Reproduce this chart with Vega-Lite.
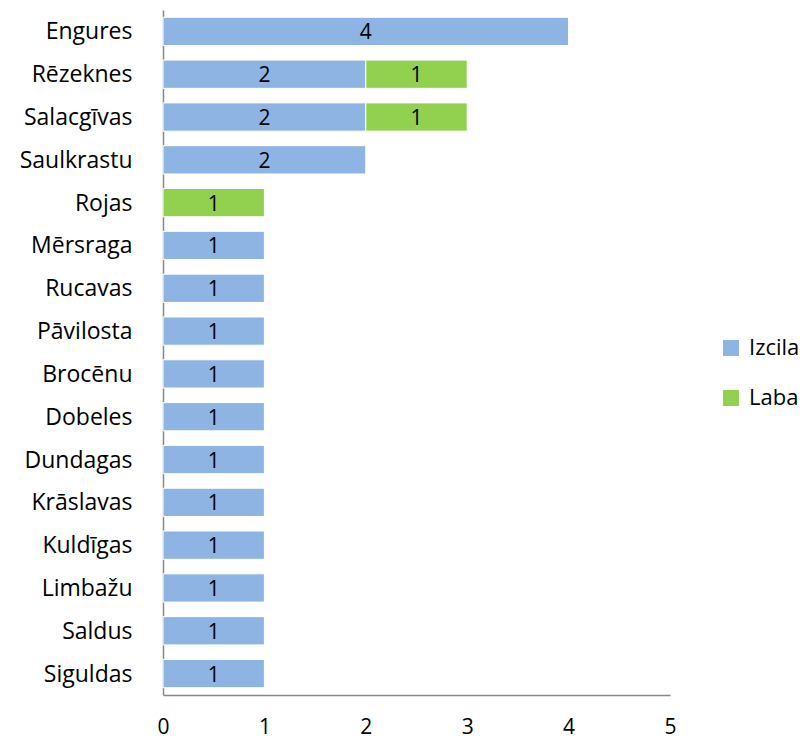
{
  "$schema": "https://vega.github.io/schema/vega-lite/v6.json",
  "autosize": "none",
  "width": 507,
  "height": 685,
  "padding": {"left": 163, "top": 10, "right": 133, "bottom": 45},
  "background": "white",
  "config": {
    "font": "Open Sans",
    "view": {"stroke": null}
  },
  "data": {
    "values": [
      {"novads": "Engures", "vertejums": "Izcila", "skaits": 4, "ord": 1},
      {"novads": "Rēzeknes", "vertejums": "Izcila", "skaits": 2, "ord": 1},
      {"novads": "Rēzeknes", "vertejums": "Laba", "skaits": 1, "ord": 2},
      {"novads": "Salacgīvas", "vertejums": "Izcila", "skaits": 2, "ord": 1},
      {"novads": "Salacgīvas", "vertejums": "Laba", "skaits": 1, "ord": 2},
      {"novads": "Saulkrastu", "vertejums": "Izcila", "skaits": 2, "ord": 1},
      {"novads": "Rojas", "vertejums": "Laba", "skaits": 1, "ord": 2},
      {"novads": "Mērsraga", "vertejums": "Izcila", "skaits": 1, "ord": 1},
      {"novads": "Rucavas", "vertejums": "Izcila", "skaits": 1, "ord": 1},
      {"novads": "Pāvilosta", "vertejums": "Izcila", "skaits": 1, "ord": 1},
      {"novads": "Brocēnu", "vertejums": "Izcila", "skaits": 1, "ord": 1},
      {"novads": "Dobeles", "vertejums": "Izcila", "skaits": 1, "ord": 1},
      {"novads": "Dundagas", "vertejums": "Izcila", "skaits": 1, "ord": 1},
      {"novads": "Krāslavas", "vertejums": "Izcila", "skaits": 1, "ord": 1},
      {"novads": "Kuldīgas", "vertejums": "Izcila", "skaits": 1, "ord": 1},
      {"novads": "Limbažu", "vertejums": "Izcila", "skaits": 1, "ord": 1},
      {"novads": "Saldus", "vertejums": "Izcila", "skaits": 1, "ord": 1},
      {"novads": "Siguldas", "vertejums": "Izcila", "skaits": 1, "ord": 1}
    ]
  },
  "transform": [
    {"stack": "skaits", "groupby": ["novads"], "sort": [{"field": "ord", "order": "ascending"}], "as": ["x0", "x1"]},
    {"calculate": "(datum.x0 + datum.x1) / 2", "as": "xmid"}
  ],
  "encoding": {
    "y": {
      "field": "novads",
      "type": "nominal",
      "sort": ["Engures","Rēzeknes","Salacgīvas","Saulkrastu","Rojas","Mērsraga","Rucavas","Pāvilosta","Brocēnu","Dobeles","Dundagas","Krāslavas","Kuldīgas","Limbažu","Saldus","Siguldas"],
      "scale": {"paddingInner": 0.34, "paddingOuter": 0.17},
      "axis": {
        "title": null,
        "ticks": false,
        "domain": true,
        "domainColor": "#888888",
        "domainWidth": 1.5,
        "labelFontSize": 23,
        "labelColor": "#000000",
        "labelPadding": 31,
        "labelOffset": 1
      }
    }
  },
  "layer": [
    {
      "mark": {"type": "bar", "stroke": "white", "strokeWidth": 1},
      "encoding": {
        "x": {
          "field": "x0",
          "type": "quantitative",
          "scale": {"domain": [0, 5]},
          "axis": {
            "title": null,
            "values": [0,1,2,3,4,5],
            "format": "d",
            "grid": false,
            "ticks": false,
            "domainColor": "#888888",
            "domainWidth": 1.5,
            "labelFontSize": 21,
            "labelColor": "#000000",
            "labelPadding": 21,
            "labelFlush": false
          }
        },
        "x2": {"field": "x1"},
        "color": {
          "field": "vertejums",
          "type": "nominal",
          "scale": {"domain": ["Izcila", "Laba"], "range": ["#8EB4E3", "#92D050"]},
          "legend": {
            "title": null,
            "orient": "none",
            "legendX": 557,
            "legendY": 327,
            "symbolType": "square",
            "symbolSize": 256,
            "symbolStrokeWidth": 0,
            "labelFontSize": 22,
            "labelColor": "#000000",
            "rowPadding": 28,
            "labelOffset": 7
          }
        }
      }
    },
    {
      "mark": {"type": "text", "fontSize": 21, "color": "#000000", "baseline": "middle", "dy": 2},
      "encoding": {
        "x": {"field": "xmid", "type": "quantitative"},
        "text": {"field": "skaits", "type": "quantitative"}
      }
    }
  ]
}
